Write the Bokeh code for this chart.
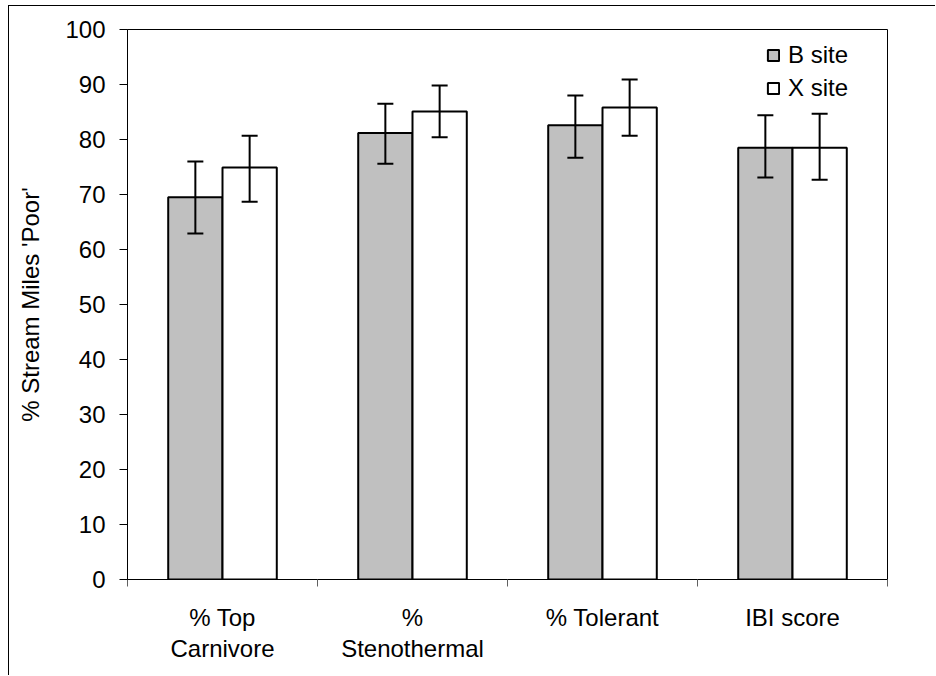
from bokeh.plotting import figure
from bokeh.models import (ColumnDataSource, Whisker, TeeHead, FixedTicker, Range1d,
                          Legend, LegendItem)
from bokeh.embed import file_html
from bokeh.resources import INLINE
import numpy as np

# ---- data ----
categories = ["% Top\nCarnivore", "%\nStenothermal", "% Tolerant", "IBI score"]
series_names = ["B site", "X site"]
b_values = [69.5, 81.2, 82.6, 78.5]
b_lower = [62.9, 75.6, 76.7, 73.1]
b_upper = [76.0, 86.5, 88.0, 84.4]
x_values = [74.9, 85.1, 85.8, 78.5]
x_lower = [68.7, 80.4, 80.7, 72.7]
x_upper = [80.7, 89.8, 90.9, 84.7]
y_ticks = list(range(0, 101, 10))
y_title = "% Stream Miles 'Poor'"

FONT = "Liberation Sans"
FS = "24px"

n = len(categories)
idx = np.arange(n)
centers = idx + 0.5
bar_w = 2 / 7  # Excel gap width 150%

p = figure(width=927, height=670, x_range=Range1d(0, n), y_range=Range1d(0, 100),
           output_backend="svg", toolbar_location=None,
           min_border_left=118, min_border_top=23, min_border_right=49, min_border_bottom=97)
p.styles = {"border-left": "1px solid black", "border-top": "1px solid black",
            "margin-left": "8px", "margin-top": "5px"}
p.background_fill_color = "white"
p.border_fill_color = "white"
p.outline_line_color = "black"
p.outline_line_width = 1
p.xgrid.visible = False
p.ygrid.visible = False

src_b = ColumnDataSource(dict(x=centers - bar_w / 2, top=b_values, lower=b_lower, upper=b_upper))
src_x = ColumnDataSource(dict(x=centers + bar_w / 2, top=x_values, lower=x_lower, upper=x_upper))

rb = p.vbar(x="x", top="top", bottom=0, width=bar_w, source=src_b,
            fill_color="#C0C0C0", line_color="black", line_width=2)
rx = p.vbar(x="x", top="top", bottom=0, width=bar_w, source=src_x,
            fill_color="white", line_color="black", line_width=2)

for src in (src_b, src_x):
    w = Whisker(source=src, base="x", upper="upper", lower="lower",
                line_color="black", line_width=2, level="overlay",
                upper_head=TeeHead(size=16, line_width=2, line_color="black"),
                lower_head=TeeHead(size=16, line_width=2, line_color="black"))
    p.add_layout(w)

# y axis
ya = p.yaxis[0]
ya.ticker = FixedTicker(ticks=y_ticks)
ya.major_tick_in = 0
ya.major_tick_out = 8
ya.minor_tick_line_color = None
ya.axis_line_color = "black"
ya.major_tick_line_color = "black"
ya.major_label_text_font = FONT
ya.major_label_text_font_size = FS
ya.major_label_text_color = "black"
ya.major_label_standoff = 14
ya.axis_label = y_title
ya.axis_label_text_font = FONT
ya.axis_label_text_font_size = FS
ya.axis_label_text_font_style = "normal"
ya.axis_label_text_color = "black"
ya.axis_label_standoff = 18

# x axis: labels at centres, ticks at category boundaries
xa = p.xaxis[0]
xa.ticker = FixedTicker(ticks=list(centers), minor_ticks=list(range(n + 1)))
xa.major_label_overrides = {float(c): lab for c, lab in zip(centers, categories)}
xa.major_tick_line_color = None
xa.minor_tick_in = 0
xa.minor_tick_out = 7
xa.minor_tick_line_color = "#606060"
xa.axis_line_color = "black"
xa.major_label_text_font = FONT
xa.major_label_text_font_size = FS
xa.major_label_text_color = "black"
xa.major_label_text_line_height = 1.15
xa.major_label_standoff = 17

legend = Legend(items=[LegendItem(label=series_names[0], renderers=[rb]),
                       LegendItem(label=series_names[1], renderers=[rx])],
                location=(639, 477), border_line_color=None, background_fill_alpha=0,
                glyph_width=14, glyph_height=14, label_text_font=FONT,
                label_text_color="black",
                label_text_font_size=FS, label_height=28, spacing=5, padding=0,
                margin=0, label_standoff=8)
p.add_layout(legend)

open("out.html", "w").write(file_html(p, INLINE))
